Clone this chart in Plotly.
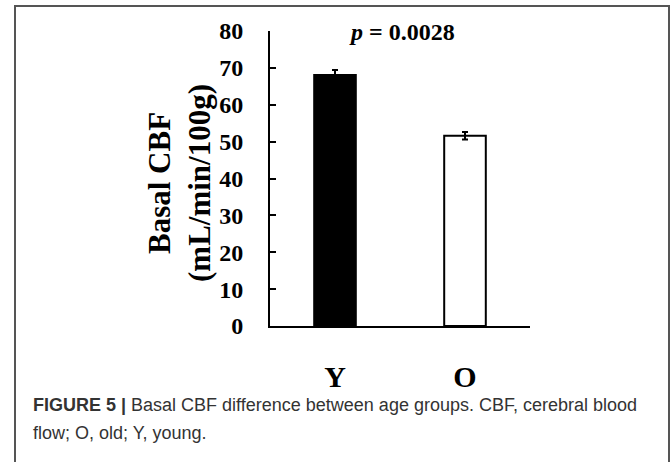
import plotly.graph_objects as go

groups = ["Y", "O"]
cbf_mean = [68.1, 51.6]
cbf_err = [1.3, 1.0]
bar_fill = ["#000000", "#ffffff"]
y_ticks = [0, 10, 20, 30, 40, 50, 60, 70, 80]
y_title = "Basal CBF<br>(mL/min/100g)"
p_text = "<i>p</i> = 0.0028"
caption_lines = ["<b>FIGURE 5 |</b> Basal CBF difference between age groups. CBF, cerebral blood",
                 "flow; O, old; Y, young."]

W, H = 671, 462
ml, mr, mt, mb = 270, 141, 31, 136
pw, ph = W - ml - mr, H - mt - mb

def px_x(x):
    return (x - ml) / pw

def px_y(y):
    return (H - mb - y) / ph

serif = "Liberation Serif, Times New Roman, serif"
sans = "Liberation Sans, Arial, sans-serif"

fig = go.Figure()
fig.add_trace(go.Bar(
    x=groups, y=cbf_mean,
    marker=dict(color=bar_fill, line=dict(color="black", width=2)),
    width=0.32,
    error_y=dict(type="data", array=cbf_err, visible=True, color="black", thickness=2, width=3),
    showlegend=False,
))

annotations = [
    dict(text=y_title, x=px_x(179), y=px_y(183), xref="paper", yref="paper",
         showarrow=False, xanchor="center", yanchor="middle", textangle=-90,
         font=dict(family=serif, size=31, weight="bold", color="black")),
    dict(text=p_text, x=px_x(402), y=px_y(32), xref="paper", yref="paper",
         showarrow=False, xanchor="center", yanchor="middle",
         font=dict(family=serif, size=24, weight="bold", color="black")),
]
for line, yc in zip(caption_lines, [405, 433]):
    annotations.append(dict(text=line, x=px_x(31), y=px_y(yc), xref="paper", yref="paper",
                            showarrow=False, xanchor="left", yanchor="middle", align="left",
                            font=dict(family=sans, size=18, color="#333333")))

fig.update_layout(
    width=W, height=H,
    margin=dict(l=ml, r=mr, t=mt, b=mb, autoexpand=False),
    paper_bgcolor="white", plot_bgcolor="white",
    font=dict(family=serif, color="black"),
    xaxis=dict(
        range=[-0.5, 1.5], showline=True, linecolor="black", linewidth=2,
        ticks="", showgrid=False, zeroline=False,
        tickfont=dict(family=serif, size=30, weight="bold", color="black"),
        ticklabelstandoff=23,
    ),
    yaxis=dict(
        range=[0, 80], tickvals=y_ticks, showline=True, linecolor="black", linewidth=2,
        ticks="inside", ticklen=6, tickwidth=2, tickcolor="black",
        showgrid=False, zeroline=False,
        tickfont=dict(family=serif, size=24, weight="bold", color="black"),
        ticklabelstandoff=20,
    ),
    annotations=annotations,
    shapes=[
        dict(type="rect", xref="paper", yref="paper",
             x0=px_x(15), x1=px_x(669), y0=px_y(6), y1=px_y(480),
             line=dict(color="#555555", width=2), fillcolor="rgba(0,0,0,0)", layer="below"),
    ],
)

fig.write_html("out.html")
